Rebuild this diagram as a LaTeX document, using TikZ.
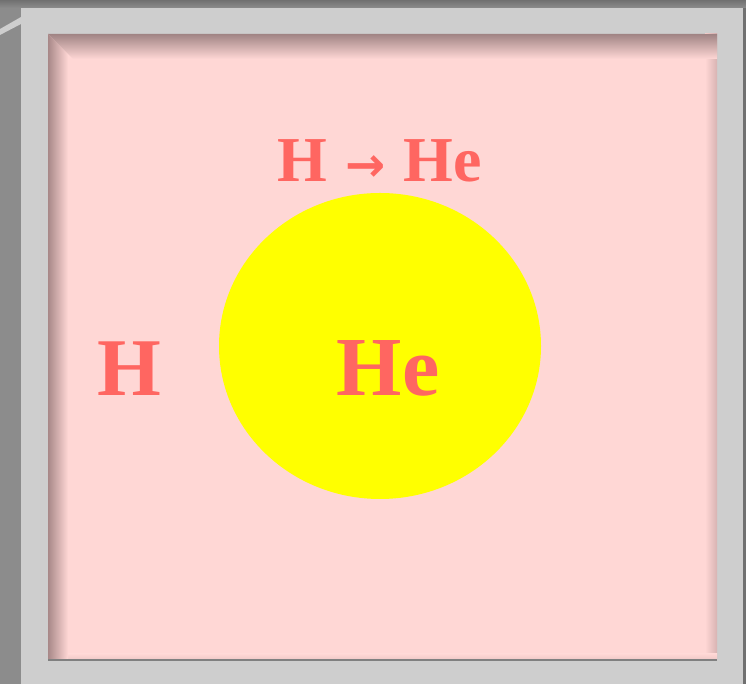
\documentclass[tikz,border=0pt]{standalone}
\usepackage{fontspec}
\setmainfont{Liberation Serif}
\newfontfamily\arrowfont{DejaVu Sans}
\usetikzlibrary{shapes.geometric}
\definecolor{bggray}{HTML}{8C8C8C}
\definecolor{bgdark}{HTML}{707070}
\definecolor{framegray}{HTML}{CECECE}
\definecolor{pinkbg}{HTML}{FFD7D5}
\definecolor{shadowleft}{HTML}{A88888}
\definecolor{shadowtop}{HTML}{A08484}
\definecolor{labelred}{HTML}{FF6661}
\definecolor{sunyellow}{HTML}{FFFF00}
\tikzset{
  lbl/.style={text=labelred, font=\bfseries, inner sep=0pt},
}
\begin{document}
\begin{tikzpicture}[x=1pt,y=1pt]
\useasboundingbox (0,0) rectangle (746,684);
% background
\fill[bggray] (0,0) rectangle (746,684);
\shade[top color=bgdark, bottom color=bggray] (0,676) rectangle (746,684);
% diagonal strip top-left
\fill[framegray] (0,655) -- (21,667) -- (21,660) -- (0,649) -- cycle;
% outer frame
\fill[framegray] (21,0) rectangle (743,676);
\fill[bgdark] (743,0) rectangle (746,676);
% pink panel
\fill[pinkbg] (48,24) rectangle (717,650);
\shade[right color=shadowleft!45!pinkbg, left color=pinkbg] (705,24) rectangle (717,650);
\shade[bottom color=shadowleft!20!pinkbg, top color=pinkbg] (48,24) rectangle (717,30);
\shade[left color=shadowleft, right color=pinkbg] (48,24) -- (48,650) -- (68,630) -- (68,24) -- cycle;
\shade[top color=shadowtop, bottom color=pinkbg] (48,650) -- (717,650) -- (717,625) -- (73,625) -- cycle;
\draw[gray, line width=1.2pt] (48,24) -- (717,24);
% sun
\node[ellipse, fill=sunyellow, minimum width=322, minimum height=306, inner sep=0pt] (sun) at (380,338) {};
\node[lbl, font=\bfseries\fontsize{84}{84}\selectfont, anchor=base] (he) at (388,288) {He};
\node[lbl, font=\bfseries\fontsize{82}{82}\selectfont, anchor=base] (h) at (129,288) {H};
\node[lbl, font=\bfseries\fontsize{64}{64}\selectfont, anchor=base] (react) at (380,502) {H\hspace{18pt}{\arrowfont\fontsize{48}{48}\selectfont →}\hspace{18pt}He};
\end{tikzpicture}
\end{document}
